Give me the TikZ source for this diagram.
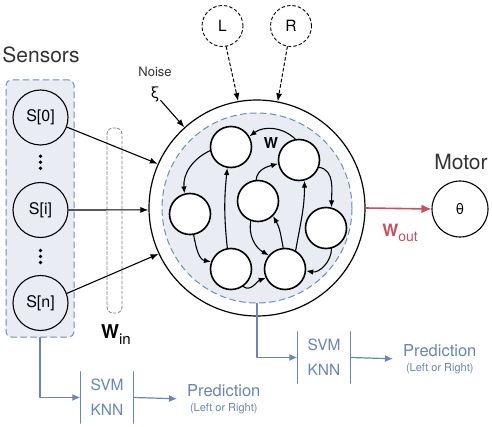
\documentclass[tikz,border=0pt]{standalone}
\usepackage{fontspec}
\setmainfont{TeX Gyre Heros}
\usetikzlibrary{arrows.meta,calc}
\definecolor{panel}{HTML}{E9EDF3}
\definecolor{panelline}{HTML}{6A8CC3}
\definecolor{clf}{HTML}{6686BE}
\definecolor{wout}{HTML}{C8505E}
\definecolor{ink}{HTML}{333333}
\definecolor{winline}{HTML}{808080}

\begin{document}
\begin{tikzpicture}[x=1pt,y=1pt,line cap=round,line join=round,
  sensor/.style={circle,draw,line width=1.1pt,minimum size=55pt,inner sep=0pt,font=\fontsize{16}{16}\selectfont},
  neuron/.style={circle,draw,fill=white,line width=1.6pt,minimum size=41pt,inner sep=0pt},
  cue/.style={circle,draw,dash pattern=on 3pt off 2.5pt,line width=0.9pt,minimum size=41pt,inner sep=0pt,font=\fontsize{15.5}{16}\selectfont},
  inarr/.style={-{Latex[length=8pt,width=6pt]},line width=1.1pt},
  syn/.style={-{Latex[length=7pt,width=5.5pt]},line width=1.1pt},
  cuearr/.style={-{Latex[length=8pt,width=6pt]},line width=1pt,dash pattern=on 3pt off 2.5pt},
  clfarr/.style={-{Latex[length=8pt,width=7pt]},line width=1.2pt,clf},
  clfbox/.style={minimum width=53pt,minimum height=51pt,inner sep=0pt,align=center,text=clf,font=\fontsize{15.5}{25}\selectfont},
  pred/.style={align=center,text=clf,inner sep=2pt,font=\fontsize{16.5}{15}\selectfont},
  title/.style={font=\fontsize{21}{21}\selectfont,text=ink}]
  \useasboundingbox (0,0) rectangle (492,426);

  % ---- sensors (left) ----
  \node[title] (senslbl) at (41,371) {Sensors};
  \node[draw=panelline,fill=panel,line width=1pt,dash pattern=on 6pt off 4pt,rounded corners=5pt,
        minimum width=68pt,minimum height=257pt] (panel) at (40,217.5) {};
  \node[sensor] (S0) at (40.5,308.5) {S[0]};
  \node[sensor] (Si) at (40.5,216) {S[i]};
  \node[sensor] (Sn) at (40.5,123) {S[n]};
  \foreach \d in {-6,0,6}{\fill ($(S0)!0.5!(Si)+(0,\d+1.5)$) circle (1.8pt);}
  \foreach \d in {-6,0,6}{\fill ($(Si)!0.5!(Sn)+(0,\d)$) circle (1.8pt);}

  % ---- input weights ----
  \node[draw=winline,line width=0.8pt,dash pattern=on 3pt off 2pt,rounded corners=6pt,
        minimum width=15pt,minimum height=185pt] (win) at (114.5,205.5) {};
  \node[font=\fontsize{19}{19}\selectfont] (winlbl) at (116,91) {\textbf{W}\raisebox{-6pt}{\fontsize{15}{15}\selectfont in}};

  % ---- reservoir ----
  \node[circle,draw,line width=1.2pt,minimum size=216pt,inner sep=0pt] (res) at (257,218) {};
  \node[circle,draw=panelline,fill=panel,line width=1pt,dash pattern=on 6pt off 4pt,
        minimum size=190pt,inner sep=0pt] (inres) at (257,218) {};
  \node[neuron] (N1) at (231,279) {};
  \node[neuron] (N2) at (299,266) {};
  \node[neuron] (N3) at (190,212) {};
  \node[neuron] (N4) at (258,225) {};
  \node[neuron] (N5) at (326,198) {};
  \node[neuron] (N6) at (231,157) {};
  \node[neuron] (N7) at (285,157) {};
  \node[font=\fontsize{15}{15}\selectfont\bfseries] (wlbl) at (271,283) {W};
  \draw[syn] (N2.100) to[bend right=40] (N1.30);
  \draw[syn] (N1.190) to[out=205,in=95] (N3.105);
  \draw[syn] (N3.-80) to[out=-80,in=170] (N6.160);
  \draw[syn] (N6.100) to[bend left=6] (N1.-100);
  \draw[syn] (N6.-55) to[out=-40,in=200] (N7.205);
  \draw[syn] (N4.95) to[out=85,in=195] (N2.190);
  \draw[syn] (N4.-110) to[out=-100,in=150] (N7.140);
  \draw[syn] (N7.95) to[out=100,in=-60] (N4.-45);
  \draw[syn] (N7.60) to[out=80,in=-90] (N2.-75);
  \draw[syn] (N2.-20) to[out=-10,in=90] (N5.75);
  \draw[syn] (N5.-75) to[out=-90,in=-10] (N7.-5);

  % ---- cues and noise (top) ----
  \node[cue] (L) at (222.5,400) {L};
  \node[cue] (R) at (291,400) {R};
  \draw[cuearr] (L.-80) -- (res.100);
  \draw[cuearr] (R.-100) -- (res.79);
  \node[font=\fontsize{13}{13}\selectfont,text=ink] (noise) at (155,354) {Noise};
  \node[font=\fontsize{16}{16}\selectfont,inner sep=1pt] (xi) at (155,332) {ξ};
  \draw[inarr] (xi) -- (res.132);

  % ---- input arrows ----
  \draw[inarr] (S0.-20) -- (res.156);
  \draw[inarr] (Si.east) -- (res.181);
  \draw[inarr] (Sn.20) -- (res.205);

  % ---- motor (right) ----
  \node[circle,draw,line width=1.1pt,minimum size=56pt,inner sep=0pt,font=\fontsize{15}{15}\selectfont] (motor) at (460,217) {θ};
  \node[title] (motorlbl) at (461,264) {Motor};
  \draw[-{Latex[length=10pt,width=9pt]},line width=1.6pt,wout] (res.east) -- (motor.west);
  \node[text=wout,font=\fontsize{17}{17}\selectfont] (woutlbl) at (400,193) {\textbf{W}\raisebox{-5pt}{\fontsize{14}{14}\selectfont out}};

  % ---- readouts (bottom) ----
  \node[clfbox] (clf1) at (107,28.5) {SVM\\KNN};
  \draw[clf,line width=1.2pt] (clf1.north west) -- (clf1.south west) (clf1.north east) -- (clf1.south east);
  \node[pred,anchor=west] (pred1) at (185,27) {Prediction\\{\fontsize{11}{12}\selectfont (Left or Right)}};
  \draw[clfarr] (panel.south) |- (clf1.west);
  \draw[clfarr,shorten >=8pt] (clf1.east) -- (pred1.west);

  \node[clfbox] (clf2) at (324,68.5) {SVM\\KNN};
  \draw[clf,line width=1.2pt] (clf2.north west) -- (clf2.south west) (clf2.north east) -- (clf2.south east);
  \node[pred,anchor=west] (pred2) at (401,67) {Prediction\\{\fontsize{11}{12}\selectfont (Left or Right)}};
  \draw[clfarr] (inres.south) |- (clf2.west);
  \draw[clfarr,shorten >=8pt] (clf2.east) -- (pred2.west);
\end{tikzpicture}
\end{document}
